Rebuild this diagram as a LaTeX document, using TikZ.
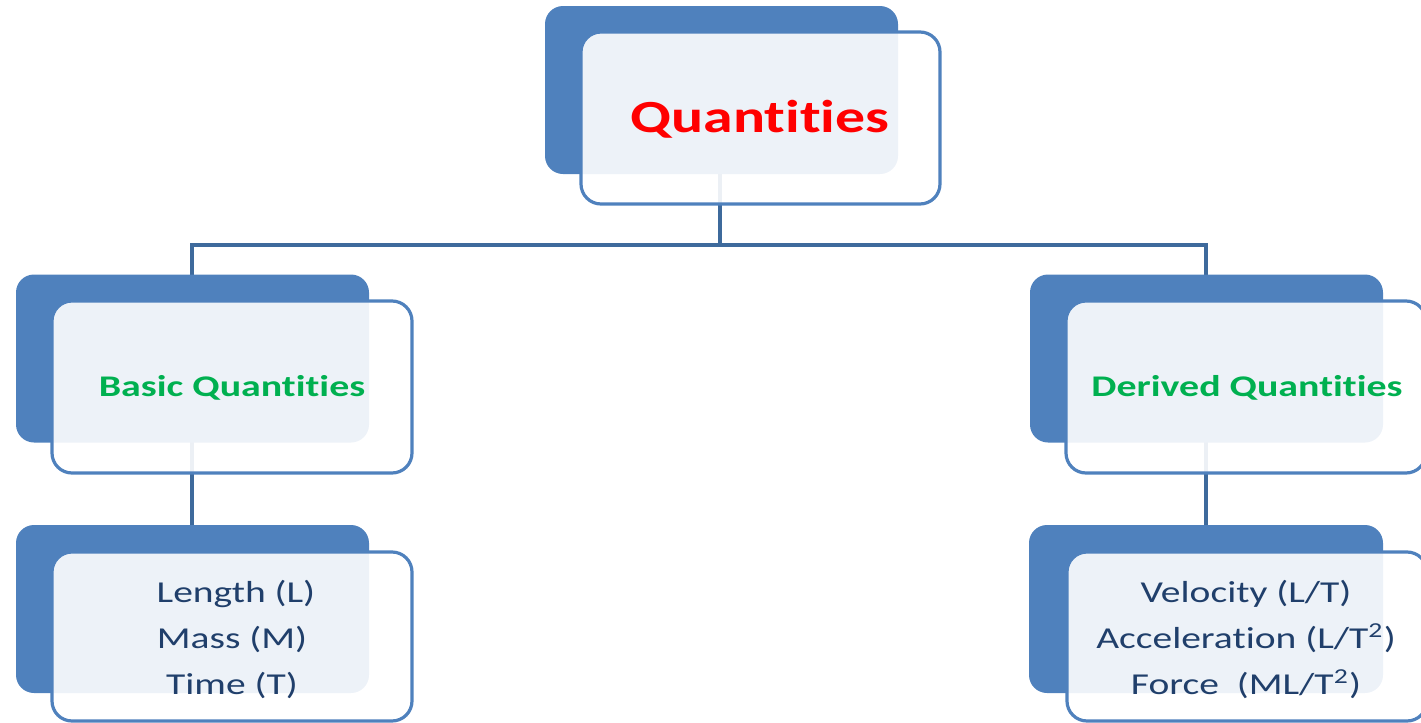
\documentclass[tikz,border=0pt]{standalone}
\usepackage{fontspec}
\setmainfont{Carlito}[Ligatures={NoCommon,NoRequired,NoContextual}]
\definecolor{boxblue}{HTML}{4F81BD}
\definecolor{linkblue}{HTML}{3E6A9C}
\definecolor{txtblue}{HTML}{203F6B}
\definecolor{grn}{HTML}{00B050}
\tikzset{
  backbox/.style={rectangle, rounded corners=9pt, fill=boxblue, draw=none, minimum width=176.5pt, minimum height=84pt, inner sep=0pt},
  frontbox/.style={rectangle, rounded corners=10pt, fill=white, fill opacity=0.9, draw=boxblue, draw opacity=1, line width=1.6pt, minimum width=180pt, minimum height=85pt, inner sep=0pt},
  link/.style={draw=linkblue, line width=1.9pt},
  lbl/.style={anchor=base, inner sep=0pt},
}
\newcommand{\sx}[1]{\scalebox{1.3}[1]{#1}}
\newcommand{\qty}{Quant\kern0pt i\kern0pt t\kern0pt i\kern0pt es}
\begin{document}
\begin{tikzpicture}[x=0.5pt,y=-0.5pt]
\useasboundingbox (0,0) rectangle (1421,723);
% connectors first
\coordinate (bus) at (720,245);
\coordinate (qc) at (720,100);
\coordinate (bc) at (192,360);
\coordinate (dc) at (1206,360);
\coordinate (blc) at (192,609);
\coordinate (drc) at (1206,609);
\draw[link] (qc) |- (bus) -| (bc);
\draw[link] (bus) -| (dc);
\draw[link] (bc) -- (blc);
\draw[link] (dc) -- (drc);
% top
\node[backbox, minimum height=84pt] (qb) at (721.5,90) {};
\node[frontbox, minimum width=179.5pt, minimum height=86pt] (qf) at (760.5,118) {};
\node[lbl, text=red, font=\fontsize{23}{27}\selectfont\bfseries] (qt) at (760,132) {\sx{\qty}};
% basic
\node[backbox] (bb) at (192.5,358.5) {};
\node[frontbox, minimum height=86pt] (bf) at (232,387) {};
\node[lbl, text=grn, font=\fontsize{15}{18}\selectfont\bfseries] (bt) at (232,396) {\scalebox{1.33}[1]{Basic \qty}};
% derived
\node[backbox] (db) at (1206.5,358.5) {};
\node[frontbox, minimum height=86pt] (df) at (1246,387) {};
\node[lbl, text=grn, font=\fontsize{15}{18}\selectfont\bfseries] (dt) at (1247,396) {\scalebox{1.33}[1]{Derived \qty}};
% basic list
\node[backbox] (lb) at (192.5,609) {};
\node[frontbox, minimum height=84.5pt] (lf) at (232,636.5) {};
\node[lbl, text=txtblue, font=\fontsize{15.2}{18}\selectfont] (l1) at (236,602) {\sx{Length (L)}};
\node[lbl, text=txtblue, font=\fontsize{15.2}{18}\selectfont] (l2) at (232,648) {\sx{Mass (M)}};
\node[lbl, text=txtblue, font=\fontsize{15.2}{18}\selectfont] (l3) at (232,694) {\sx{Time (T)}};
% derived list
\node[backbox, minimum width=177pt] (rb) at (1206,609) {};
\node[frontbox, minimum height=84.5pt] (rf) at (1247,636.5) {};
\node[lbl, text=txtblue, font=\fontsize{15.2}{18}\selectfont] (r1) at (1246,602) {\sx{Velocity (L/T)}};
\node[lbl, text=txtblue, font=\fontsize{15.2}{18}\selectfont] (r2) at (1246,648) {\sx{Accelerat\kern0pt ion (L/T\textsuperscript{2})}};
\node[lbl, text=txtblue, font=\fontsize{15.2}{18}\selectfont] (r3) at (1246,694) {\sx{Force\ \ (ML/T\textsuperscript{2})}};
\end{tikzpicture}
\end{document}
